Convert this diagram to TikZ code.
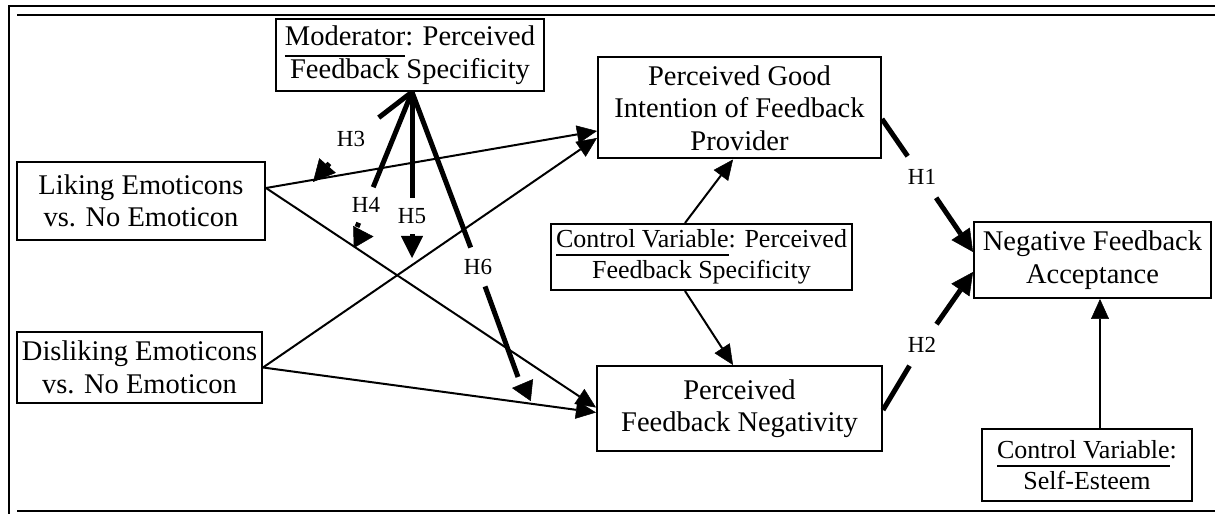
\documentclass[tikz,border=0pt]{standalone}
\usepackage{fontspec}
\setmainfont{Liberation Serif}
\usetikzlibrary{arrows.meta,calc}
\newcommand\bigf{\fontsize{28.5}{32.5}\selectfont}
\newcommand\smallf{\fontsize{26}{31.5}\selectfont}
\newcommand\labf{\fontsize{23}{24}\selectfont}
\newcommand\myul[2]{\setbox0=\hbox{#2}\rlap{\rule[-#1pt]{\wd0}{2pt}}\box0}
\begin{document}
\begin{tikzpicture}[x=1pt,y=1pt,
  box/.style={draw,line width=2pt,align=center,inner sep=0pt,font=\bigf},
  cbox/.style={box,font=\smallf},
  conn/.style={line width=2pt,-{Triangle[length=20pt,width=18pt,line width=0.5pt]}},
  modl/.style={line width=5pt},
  modarr/.style={line width=5pt,-{Triangle[length=22pt,width=22pt,line width=0.5pt]}},
  headonly/.style={line width=0.5pt,-{Triangle[length=20pt,width=22pt,line width=0.5pt]}},
  hlab/.style={font=\labf}
]
\useasboundingbox (0,0) rectangle (1215,514);
% frame
\draw[line width=2.5pt] (1215,508) -- (9,508) -- (9,0);
\draw[line width=1.6pt] (17,499.2) -- (1215,499.2);
\draw[line width=2.2pt] (17,3) -- (1215,3);
% boxes
\node[box,minimum width=248pt,minimum height=78pt] (lik) at (141,313) {Liking Emoticons\\vs. No Emoticon};
\node[box,minimum width=245pt,minimum height=71pt] (dis) at (139.5,146.5) {Disliking Emoticons\\vs. No Emoticon};
\node[box,minimum width=268pt,minimum height=72pt] (mod) at (410,459) {\myul{11}{Moderator}: Perceived\\Feedback Specificity};
\node[box,minimum width=283pt,minimum height=101pt] (good) at (739.5,406) {Perceived Good\\Intention of Feedback\\Provider};
\node[cbox,minimum width=301pt,minimum height=66pt] (ctrl) at (701.5,257) {\myul{9}{Control Variable}: Perceived\\Feedback Specificity};
\node[box,minimum width=285pt,minimum height=85pt] (neg) at (739.5,105.5) {Perceived\\Feedback Negativity};
\node[box,minimum width=237pt,minimum height=76pt] (acc) at (1092.5,254) {Negative Feedback\\Acceptance};
\node[cbox,minimum width=210pt,minimum height=72pt] (self) at (1087,49) {\myul{9}{Control Variable}:\\Self-Esteem};
% hypothesis labels
\node[hlab,inner xsep=4pt,inner ysep=13pt] (h1) at (922,337) {H1};
\node[hlab,inner xsep=4pt,inner ysep=13pt] (h2) at (922,169) {H2};
\node[hlab,inner xsep=13.5pt,inner ysep=16.5pt] (h3) at (351,375) {H3};
\node[hlab,inner xsep=2pt,inner ysep=10pt] (h4) at (366,309) {H4};
\node[hlab,inner xsep=2pt,inner ysep=10.5pt] (h5) at (412,298) {H5};
\node[hlab,inner xsep=2pt,inner ysep=11.5pt] (h6) at (478,247) {H6};
% coordinates
\coordinate (apex) at ($(mod.south)+(2,0)$);
\coordinate (h3tip) at (313,332);
\coordinate (h4end) at (357,287);
\coordinate (h4a) at (353.5,277);
\coordinate (h4b) at (373.5,277.5);
\coordinate (h5tip) at (412,256);
\coordinate (h6end) at (518,137);
\coordinate (h6a) at (531,124);
\coordinate (h6b) at (512,126);
% main connectors
\draw[conn] ($(lik.east)+(0,13)$) -- ($(good.west)+(0,-23)$);
\draw[conn] ($(lik.east)+(0,13)$) -- ($(neg.west)+(0,1)$);
\draw[conn] (dis.east) -- ($(good.west)+(0,-30)$);
\draw[conn] (dis.east) -- ($(neg.west)+(0,-4)$);
\draw[conn] ($(ctrl.north)+(-16.5,0)$) -- ($(good.south)+(-6.5,0)$);
\draw[conn] ($(ctrl.south)+(-16.5,0)$) -- ($(neg.north)+(-6.5,0)$);
\draw[conn] ($(self.north)+(13,0)$) -- ($(acc.south)+(7.5,0)$);
% H1, H2
\draw[modl] ($(good.east)+(0,-11)$) -- (h1);
\draw[modarr] (h1) -- ($(acc.west)+(0,8)$);
\draw[modl] ($(neg.east)+(0,-1.5)$) -- (h2);
\draw[modarr] (h2) -- ($(acc.west)+(0,-12)$);
% moderator arrows
\draw[modl] (apex) -- (h3);
\draw[modarr] (h3) -- (h3tip);
\draw[modl] (apex) -- (h4);
\draw[modl] (h4) -- (h4end);
\draw[headonly] (h4a) -- (h4b);
\draw[modl] (apex) -- (h5);
\draw[modarr] (h5) -- (h5tip);
\draw[modl] (apex) -- (h6);
\draw[modl] (h6) -- (h6end);
\draw[headonly] (h6a) -- (h6b);
\end{tikzpicture}
\end{document}
